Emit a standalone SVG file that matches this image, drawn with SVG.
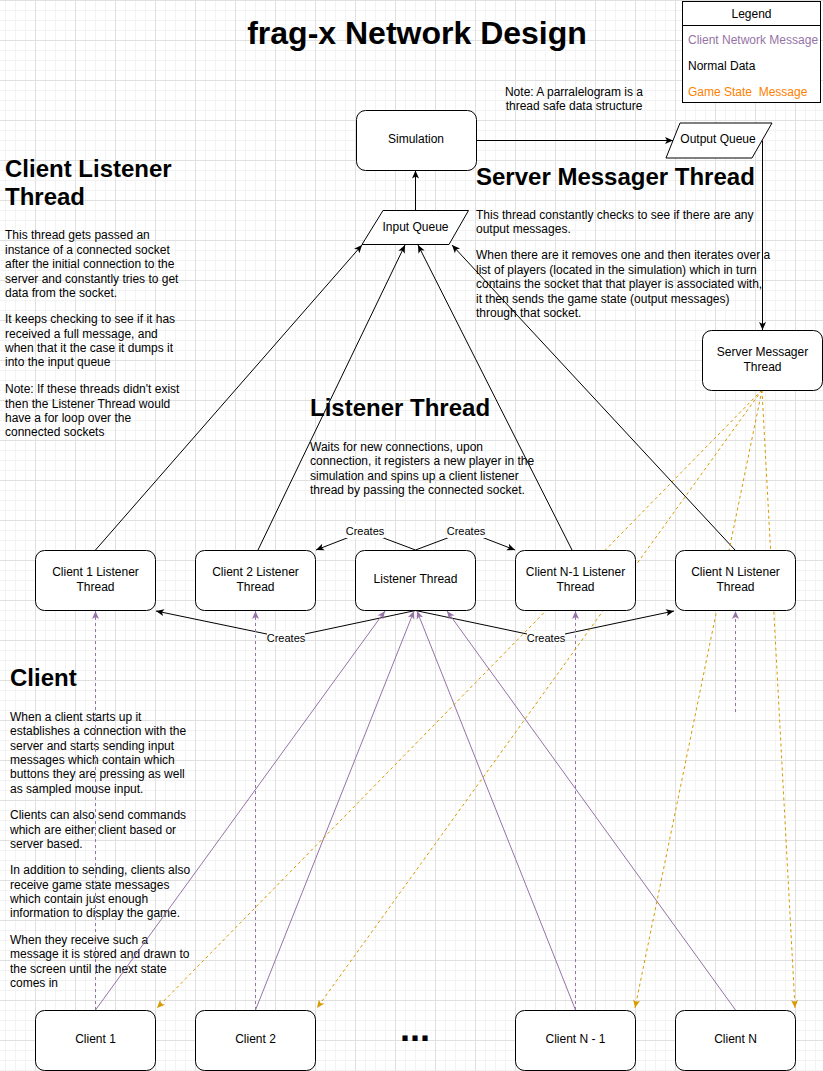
<svg xmlns="http://www.w3.org/2000/svg" width="823" height="1071" viewBox="0 0 823 1071">
<defs>
<pattern id="grid" x="35" y="0" width="40" height="40" patternUnits="userSpaceOnUse">
<path d="M10.5 0V40M20.5 0V40M30.5 0V40M0 10.5H40M0 20.5H40M0 30.5H40" stroke="#f3f3f3" fill="none"/>
<path d="M0.5 0V40M0 0.5H40" stroke="#e0e0e0" fill="none"/>
</pattern>
<marker id="ab" viewBox="0 0 10 10" refX="9" refY="5" markerWidth="10" markerHeight="10" markerUnits="userSpaceOnUse" orient="auto"><path d="M1,1.5 L9,5 L1,8.5 L3,5 z" fill="#000"/></marker>
<marker id="ap" viewBox="0 0 10 10" refX="9" refY="5" markerWidth="10" markerHeight="10" markerUnits="userSpaceOnUse" orient="auto"><path d="M1,1.5 L9,5 L1,8.5 L3,5 z" fill="#9673a6"/></marker>
<marker id="ao" viewBox="0 0 10 10" refX="9" refY="5" markerWidth="10" markerHeight="10" markerUnits="userSpaceOnUse" orient="auto"><path d="M1,1.5 L9,5 L1,8.5 L3,5 z" fill="#d79b00"/></marker>
</defs>
<style>
text{font-family:"Liberation Sans",Arial,Helvetica,sans-serif;font-size:12px;fill:#000}
.node rect,.node path{fill:#fff;stroke:#000;stroke-width:1}
.c{text-anchor:middle}
.h{font-size:24px;font-weight:bold}
.e{fill:none;stroke:#000;stroke-width:1}
.b{marker-end:url(#ab)}
.p{stroke:#9673a6;marker-end:url(#ap)}
.pd{stroke:#9673a6;stroke-dasharray:3 3;marker-end:url(#ap)}
.od{stroke:#d79b00;stroke-dasharray:3 3;marker-end:url(#ao)}
.lbl{font-size:11px;text-anchor:middle}
</style>
<rect width="823" height="1071" fill="#fff"/>
<rect width="823" height="1071" fill="url(#grid)"/>

<text x="417" y="44" class="c" style="font-size:32px;font-weight:bold">frag-x Network Design</text>

<g id="legend">
<rect x="682.5" y="1.5" width="138" height="101" fill="#fff" stroke="#000"/>
<path d="M682.5 25.5H820.5" stroke="#000"/>
<text x="751.5" y="18" class="c">Legend</text>
<text x="688" y="44" style="fill:#9673a6">Client Network Message</text>
<text x="688" y="70">Normal Data</text>
<text x="688" y="96" style="fill:#ff8000;white-space:pre" xml:space="preserve">Game State  Message</text>
</g>

<g id="note">
<text x="574" y="96" class="c">Note: A parralelogram is a</text>
<text x="574" y="110" class="c">thread safe data structure</text>
</g>

<g id="text-client-listener">
<text x="5" y="176.5" class="h">Client Listener</text>
<text x="5" y="205" class="h">Thread</text>
<text x="5" y="239.3">This thread gets passed an</text>
<text x="5" y="253.7">instance of a connected socket</text>
<text x="5" y="268">after the initial connection to the</text>
<text x="5" y="282.5">server and constantly tries to get</text>
<text x="5" y="297">data from the socket.</text>
<text x="5" y="323.3">It keeps checking to see if it has</text>
<text x="5" y="337.7">received a full message, and</text>
<text x="5" y="352">when that it the case it dumps it</text>
<text x="5" y="366.3">into the input queue</text>
<text x="5" y="393.3">Note: If these threads didn't exist</text>
<text x="5" y="407.7">then the Listener Thread would</text>
<text x="5" y="422">have a for loop over the</text>
<text x="5" y="436.3">connected sockets</text>
</g>

<g id="text-server-messager">
<text x="476" y="185" class="h">Server Messager Thread</text>
<text x="476" y="218.6">This thread constantly checks to see if there are any</text>
<text x="476" y="232.6">output messages.</text>
<text x="476" y="259.3">When there are it removes one and then iterates over a</text>
<text x="476" y="273.6">list of players (located in the simulation) which in turn</text>
<text x="476" y="288.2">contains the socket that that player is associated with,</text>
<text x="476" y="302.6">it then sends the game state (output messages)</text>
<text x="476" y="317">through that socket.</text>
</g>

<g id="text-listener">
<text x="310" y="416" class="h">Listener Thread</text>
<text x="310" y="451">Waits for new connections, upon</text>
<text x="310" y="465.3">connection, it registers a new player in the</text>
<text x="310" y="479.5">simulation and spins up a client listener</text>
<text x="310" y="493.6">thread by passing the connected socket.</text>
</g>

<g id="text-client">
<text x="10" y="686" class="h">Client</text>
<text x="10" y="721">When a client starts up it</text>
<text x="10" y="735.3">establishes a connection with the</text>
<text x="10" y="749.5">server and starts sending input</text>
<text x="10" y="763.8">messages which contain which</text>
<text x="10" y="778">buttons they are pressing as well</text>
<text x="10" y="792.6">as sampled mouse input.</text>
<text x="10" y="819.3">Clients can also send commands</text>
<text x="10" y="833.6">which are either client based or</text>
<text x="10" y="847.8">server based.</text>
<text x="10" y="874.3">In addition to sending, clients also</text>
<text x="10" y="888.6">receive game state messages</text>
<text x="10" y="903">which contain just enough</text>
<text x="10" y="917.3">information to display the game.</text>
<text x="10" y="943.6">When they receive such a</text>
<text x="10" y="958.3">message it is stored and drawn to</text>
<text x="10" y="972.6">the screen until the next state</text>
<text x="10" y="987">comes in</text>
</g>

<g id="connectors">
<path class="e b" d="M476.5 140.5H673"/>
<path class="e b" d="M762.5 140.5V330"/>
<path class="e b" d="M415.5 210.5V170.5"/>
<path class="e b" d="M95.5 550L362 245"/>
<path class="e b" d="M258 550L405 245"/>
<path class="e b" d="M572 550L418 245"/>
<path class="e b" d="M735 550L452 245"/>
<path class="e b" d="M415.5 550L365 531L316 550"/>
<path class="e b" d="M415.5 550L466 531L515 550"/>
<path class="e b" d="M415.5 610.5L286 638L156 611"/>
<path class="e b" d="M415.5 610.5L546 638L674 611"/>
<path class="e pd" d="M95.5 1010V611"/>
<path class="e pd" d="M255.5 1010V611"/>
<path class="e pd" d="M575.5 1010V611"/>
<path class="e pd" d="M735.5 712V611"/>
<path class="e p" d="M95.5 1010L385 611"/>
<path class="e p" d="M255.5 1010L414 611"/>
<path class="e p" d="M575.5 1010L417 611"/>
<path class="e p" d="M735.5 1010L447 611"/>
<path class="e od" d="M762 390L157 1008"/>
<path class="e od" d="M762 390L317 1008"/>
<path class="e od" d="M762 390L635 1008"/>
<path class="e od" d="M762 390L795 1008"/>
<rect x="346" y="524" width="38" height="14" fill="#fff"/>
<text x="365" y="535" class="lbl">Creates</text>
<rect x="447" y="524" width="38" height="14" fill="#fff"/>
<text x="466" y="535" class="lbl">Creates</text>
<rect x="267" y="631" width="38" height="14" fill="#fff"/>
<text x="286" y="642" class="lbl">Creates</text>
<rect x="527" y="631" width="38" height="14" fill="#fff"/>
<text x="546" y="642" class="lbl">Creates</text>
</g>

<g id="simulation" class="node"><rect x="356.5" y="110.5" width="120" height="60" rx="9"/><text x="416" y="143.3" class="c">Simulation</text></g>
<g id="output-queue" class="node"><path d="M680 123H772L752 158H666Z"/><text x="718" y="143.3" class="c">Output Queue</text></g>
<g id="input-queue" class="node"><path d="M383 210.5H468.5L449 244.5H362Z"/><text x="415.5" y="231.3" class="c">Input Queue</text></g>
<g id="server-messager-thread" class="node"><rect x="702.5" y="330.5" width="120" height="60" rx="9"/><text x="762.5" y="356.3" class="c">Server Messager</text><text x="762.5" y="370.6" class="c">Thread</text></g>

<g id="client1-listener" class="node"><rect x="35.5" y="550.5" width="120" height="60" rx="9"/><text x="95.5" y="576.3" class="c">Client 1 Listener</text><text x="95.5" y="590.6" class="c">Thread</text></g>
<g id="client2-listener" class="node"><rect x="195.5" y="550.5" width="120" height="60" rx="9"/><text x="255.5" y="576.3" class="c">Client 2 Listener</text><text x="255.5" y="590.6" class="c">Thread</text></g>
<g id="listener-thread" class="node"><rect x="355.5" y="550.5" width="120" height="60" rx="9"/><text x="415.5" y="583.3" class="c">Listener Thread</text></g>
<g id="clientn1-listener" class="node"><rect x="515.5" y="550.5" width="120" height="60" rx="9"/><text x="575.5" y="576.3" class="c">Client N-1 Listener</text><text x="575.5" y="590.6" class="c">Thread</text></g>
<g id="clientn-listener" class="node"><rect x="675.5" y="550.5" width="120" height="60" rx="9"/><text x="735.5" y="576.3" class="c">Client N Listener</text><text x="735.5" y="590.6" class="c">Thread</text></g>

<g id="client1" class="node"><rect x="35.5" y="1010.5" width="120" height="60" rx="9"/><text x="95.5" y="1043.3" class="c">Client 1</text></g>
<g id="client2" class="node"><rect x="195.5" y="1010.5" width="120" height="60" rx="9"/><text x="255.5" y="1043.3" class="c">Client 2</text></g>
<g id="ellipsis"><text x="415" y="1041" class="c" style="font-size:36px;font-weight:bold">...</text></g>
<g id="clientn1" class="node"><rect x="515.5" y="1010.5" width="120" height="60" rx="9"/><text x="575.5" y="1043.3" class="c">Client N - 1</text></g>
<g id="clientn" class="node"><rect x="675.5" y="1010.5" width="120" height="60" rx="9"/><text x="735.5" y="1043.3" class="c">Client N</text></g>
</svg>
